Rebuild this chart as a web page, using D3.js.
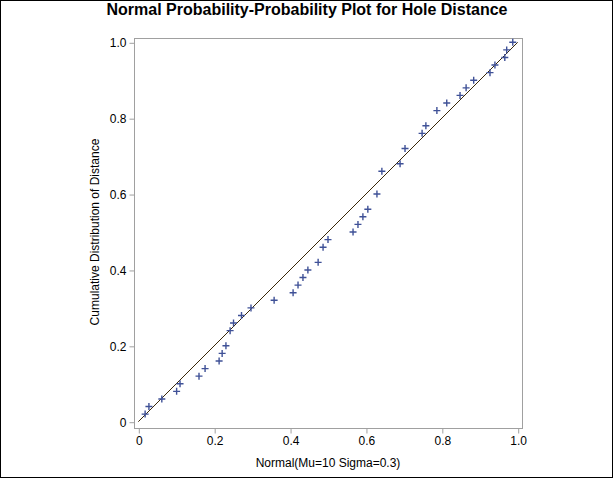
<!DOCTYPE html>
<html>
<head>
<meta charset="utf-8">
<script src="https://cdn.jsdelivr.net/npm/d3@7"></script>
<style>
  html, body { margin: 0; padding: 0; background: #fff; }
  svg { display: block; font-family: Arial, "Liberation Sans", sans-serif; }
</style>
</head>
<body>
<svg id="chart" width="614" height="480"></svg>
<script>
// ---- data ----
const normalCdf = [0.018,0.028,0.062,0.101,0.110,0.160,0.176,0.213,0.221,0.231,0.242,0.251,0.272,0.297,0.358,0.408,0.421,0.434,0.447,0.474,0.487,0.500,0.566,0.579,0.592,0.605,0.629,0.642,0.690,0.703,0.748,0.758,0.787,0.813,0.848,0.864,0.884,0.927,0.940,0.966,0.971,0.987];
const empiricalCdf = [0.02,0.04,0.06,0.08,0.10,0.12,0.14,0.16,0.18,0.20,0.24,0.26,0.28,0.30,0.32,0.34,0.36,0.38,0.40,0.42,0.46,0.48,0.50,0.52,0.54,0.56,0.60,0.66,0.68,0.72,0.76,0.78,0.82,0.84,0.86,0.88,0.90,0.92,0.94,0.96,0.98,1.00];
const xTicks = [0, 0.2, 0.4, 0.6, 0.8, 1.0];
const yTicks = [0, 0.2, 0.4, 0.6, 0.8, 1.0];
const refLine = [0, 1];
const title = "Normal Probability-Probability Plot for Hole Distance";
const xLabel = "Normal(Mu=10 Sigma=0.3)";
const yLabel = "Cumulative Distribution of Distance";

// ---- layout ----
const W = 614, H = 480;
const frame = { left: 134, right: 522, top: 38, bottom: 428 };
const svg = d3.select("#chart");

const x = d3.scaleLinear().domain([0, 1]).range([138.3, 517.7]);
const y = d3.scaleLinear().domain([0, 1]).range([421.7, 42.3]);

// outer border
svg.append("rect").attr("x", 0.5).attr("y", 0.5).attr("width", W - 2).attr("height", H - 3)
  .attr("fill", "#fff").attr("stroke", "#000").attr("stroke-width", 1);

// title
svg.append("text").attr("x", W / 2).attr("y", 15).attr("text-anchor", "middle")
  .attr("font-size", 16).attr("font-weight", "bold").attr("fill", "#000").text(title);

// frame
svg.append("rect").attr("x", frame.left + 0.5).attr("y", frame.top + 0.5)
  .attr("width", frame.right - frame.left).attr("height", frame.bottom - frame.top)
  .attr("fill", "none").attr("stroke", "#a0a0a0").attr("stroke-width", 1);

const fmt = d => d === 0 ? "0" : d3.format(".1f")(d);

// axes
const xAxis = svg.append("g").attr("transform", `translate(0.5,${frame.bottom + 0.5})`)
  .call(d3.axisBottom(x).tickValues(xTicks).tickFormat(fmt).tickSize(5).tickSizeOuter(0).tickPadding(3));
const yAxis = svg.append("g").attr("transform", `translate(${frame.left + 0.5},0.5)`)
  .call(d3.axisLeft(y).tickValues(yTicks).tickFormat(fmt).tickSize(5).tickSizeOuter(0).tickPadding(3));
[xAxis, yAxis].forEach(g => {
  g.select(".domain").remove();
  g.selectAll(".tick line").attr("stroke", "#a0a0a0");
  g.selectAll(".tick text").attr("font-size", 12).attr("fill", "#000")
    .attr("font-family", "Arial, 'Liberation Sans', sans-serif");
});

// axis labels
svg.append("text").attr("x", (x(0) + x(1)) / 2).attr("y", 467).attr("text-anchor", "middle")
  .attr("font-size", 12).attr("fill", "#000").text(xLabel);
svg.append("text").attr("transform", `translate(99,${(y(0) + y(1)) / 2}) rotate(-90)`)
  .attr("text-anchor", "middle").attr("font-size", 12).attr("fill", "#000").text(yLabel);

// reference line
svg.append("line").attr("x1", x(refLine[0])).attr("y1", y(refLine[0]))
  .attr("x2", x(refLine[1])).attr("y2", y(refLine[1]))
  .attr("stroke", "#3a2808").attr("stroke-width", 1);

// points (+ markers)
const pts = normalCdf.map((v, i) => [v, empiricalCdf[i]]);
const s = 3.5;
const g = svg.append("g").attr("stroke", "#3f5197").attr("stroke-width", 1.4).attr("fill", "none");
g.selectAll("path").data(pts).join("path")
  .attr("d", d => {
    const cx = x(d[0]), cy = y(d[1]);
    return `M${cx - s},${cy}H${cx + s}M${cx},${cy - s}V${cy + s}`;
  });
</script>
</body>
</html>
